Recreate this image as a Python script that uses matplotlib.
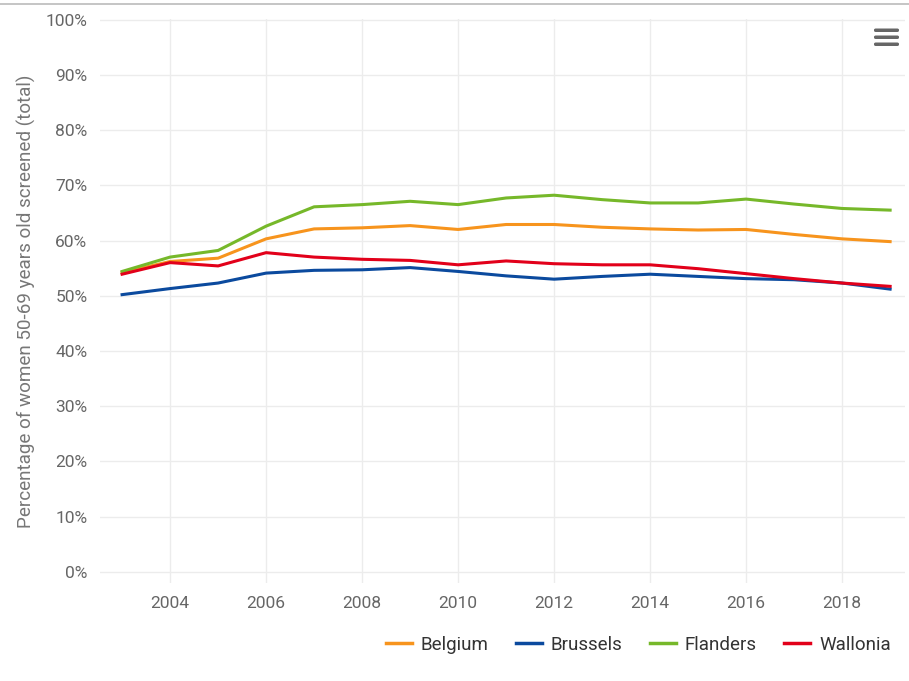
import matplotlib.pyplot as plt
from matplotlib.patches import FancyBboxPatch
from matplotlib.lines import Line2D

plt.rcParams['font.family'] = ['Roboto', 'DejaVu Sans']

years = list(range(2003, 2020))
belgium = [54.2, 56.2, 56.8, 60.3, 62.1, 62.3, 62.7, 62.0, 62.9, 62.9, 62.4, 62.1, 61.9, 62.0, 61.1, 60.3, 59.8]
brussels = [50.2, 51.3, 52.3, 54.1, 54.6, 54.7, 55.1, 54.4, 53.6, 53.0, 53.5, 53.9, 53.5, 53.1, 52.9, 52.3, 51.2]
flanders = [54.4, 57.0, 58.2, 62.6, 66.1, 66.5, 67.1, 66.5, 67.7, 68.2, 67.4, 66.8, 66.8, 67.5, 66.6, 65.8, 65.5]
wallonia = [53.9, 56.0, 55.4, 57.8, 57.0, 56.6, 56.4, 55.6, 56.3, 55.8, 55.6, 55.6, 54.9, 54.0, 53.1, 52.3, 51.7]

series = [
    ('Belgium', belgium, '#f7941d'),
    ('Brussels', brussels, '#0b4a9e'),
    ('Flanders', flanders, '#76b82a'),
    ('Wallonia', wallonia, '#e2001a'),
]

W, H = 909, 681
fig = plt.figure(figsize=(W / 100, H / 100), dpi=100)
ax = fig.add_axes([100 / W, 1 - 583 / H, 805 / W, 564 / H])

for name, vals, col in series:
    ax.plot(years, vals, color=col, lw=2.2, label=name, solid_joinstyle='round')

ax.set_xlim(2002.54, 2019.31)
ax.set_ylim(-2.0, 100.1)
ax.set_yticks(range(0, 101, 10))
ax.set_yticklabels([f'{v}%' for v in range(0, 101, 10)])
ax.set_xticks(range(2004, 2019, 2))
ax.grid(True, color='#ececec', lw=1)
ax.set_axisbelow(True)
for s in ax.spines.values():
    s.set_visible(False)
ax.tick_params(length=0, labelsize=12.5, labelcolor='#666666')
ax.tick_params(axis='y', pad=9)
ax.tick_params(axis='x', pad=9)
ax.set_ylabel('Percentage of women 50-69 years old screened (total)',
              fontsize=13.6, color='#777777', labelpad=7)

leg = fig.legend(handles=[Line2D([], [], color=c, lw=2.5) for _, _, c in series],
                 labels=[n for n, _, _ in series],
                 loc='center right', bbox_to_anchor=(891 / W, 1 - 645 / H),
                 borderaxespad=0, borderpad=0,
                 ncol=4, frameon=False, fontsize=13.5, handlelength=1.39,
                 columnspacing=1.45, handletextpad=0.48)
for t in leg.get_texts():
    t.set_color('#333333')

# top border
fig.add_artist(Line2D([0, 1], [1 - 4 / H, 1 - 4 / H], color='#bbbbbb', lw=1.2))

# menu icon
for yy in (30, 37, 44):
    fig.add_artist(FancyBboxPatch((874 / W, 1 - (yy + 2) / H), 25 / W, 3.5 / H,
                                  boxstyle='round,pad=0,rounding_size=0.002',
                                  color='#666666', lw=0))

fig.savefig('out.png', dpi=100, facecolor='white')
